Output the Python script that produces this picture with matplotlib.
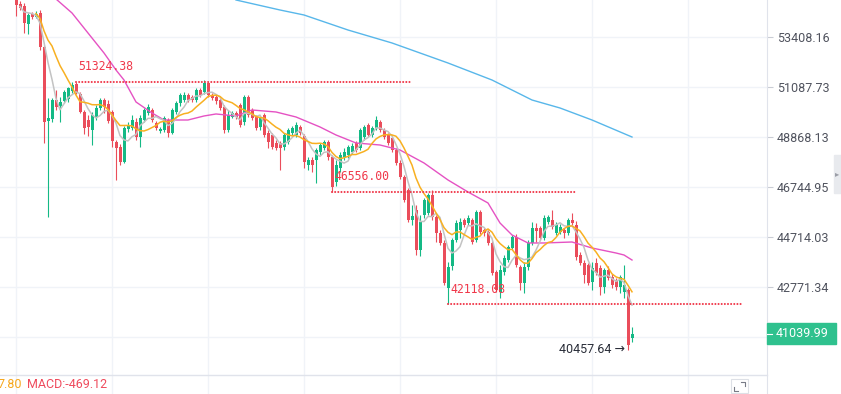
import numpy as np
import pandas as pd
import matplotlib
matplotlib.use("Agg")
import matplotlib.pyplot as plt
from matplotlib.patches import Rectangle
from matplotlib.lines import Line2D
from matplotlib.ticker import NullLocator, NullFormatter

plt.rcParams["font.family"] = ["Roboto", "DejaVu Sans"]

# candles, one per index (oldest first)
OPEN = [55388, 54998, 54900, 54029, 54511, 54366, 54560, 52936, 49568, 49657,
        50501, 50233, 50456, 50546, 50907, 51224, 50772, 49966, 49612, 49173,
        49745, 50144, 50501, 50323, 49966, 48652, 48436, 47795, 49217, 49261,
        49524, 48868, 49612, 49922, 50055, 49480, 49130, 49173, 49612, 49043,
        49966, 50367, 50501, 50727, 50637, 50501, 50952, 50862, 51270, 50727,
        50637, 50501, 50189, 49173, 49745, 49922, 50278, 49524, 50637, 50055,
        49745, 49305, 49834, 49043, 48956, 48609, 48609, 48436, 48652, 49043,
        48956, 49305, 48912, 47668, 47880, 47880, 48222, 48393, 48652, 48008,
        46954, 47541, 48008, 48094, 48222, 48609, 48393, 48868, 49393, 48956,
        49261, 49524, 49173, 48956, 48825, 48307, 47753, 47163, 46620, 45394,
        45800, 44200, 45597, 45678, 46414, 45516, 44874, 44477, 42733, 43577,
        44595, 44993, 45394, 45274, 45394, 44595, 45719, 44993, 44913, 44477,
        43345, 42582, 43345, 43809, 44279, 44714, 43538, 42924, 43538, 44477,
        45073, 45073, 44675, 45314, 45394, 44874, 44913, 44993, 44874, 45394,
        45194, 44005, 43693, 43616, 42962, 43693, 43499, 42771, 43422, 43153,
        43038, 42771, 42582, 42657, 40877]
HIGH = [55583, 55144, 55047, 54560, 54608, 54657, 54705, 53030, 50591, 50591,
        50952, 50636, 50952, 51088, 51315, 51324.38, 50862, 50055, 49834, 49966,
        50278, 50591, 50591, 50501, 50055, 48738, 48566, 49349, 49524, 49834,
        49701, 49834, 50144, 50323, 50144, 49568, 49305, 49789, 49701, 50144,
        50456, 50817, 50862, 50817, 50727, 51043, 51043, 51406, 51315, 50817,
        50727, 50591, 50278, 50055, 50011, 50011, 50367, 50727, 50727, 50144,
        49834, 49789, 49922, 49173, 49043, 48738, 48695, 49043, 49261, 49349,
        49524, 49393, 48999, 48008, 48008, 48393, 48609, 48738, 48738, 48094,
        47880, 48222, 48393, 48522, 48609, 48695, 49261, 49393, 49480, 49349,
        49789, 49612, 49261, 49043, 48912, 48393, 47880, 47246, 46703, 46004,
        46004, 45597, 46290, 46496, 46620, 45597, 44993, 44595, 43732, 44675,
        45394, 45475, 45475, 45597, 45475, 45800, 45800, 45073, 44993, 44556,
        43422, 43616, 44005, 44398, 44794, 44834, 43616, 43732, 44595, 45314,
        45274, 45154, 45597, 45597, 45800, 45314, 45234, 45073, 45475, 45678,
        45354, 44122, 43809, 43693, 43732, 43887, 43616, 43499, 43577, 43268,
        43115, 43230, 43616, 42733, 41278]
LOW = [54415, 54705, 53599, 53551, 54269, 54318, 52795, 48609, 45516, 49524,
       50055, 49524, 50367, 50412, 50817, 50772, 49922, 48999, 48912, 48522,
       49612, 50055, 49922, 49480, 48436, 47037, 47668, 47753, 49086, 49173,
       48738, 48436, 49524, 49834, 49524, 49173, 49043, 49086, 48868, 48999,
       49878, 50233, 50412, 50412, 50412, 50412, 50637, 50772, 50637, 50501,
       50323, 50055, 49043, 49086, 49701, 49657, 49305, 49393, 49745, 49612,
       49173, 49173, 48868, 48393, 48350, 48307, 47456, 48307, 48566, 48956,
       48868, 48956, 47541, 47456, 47372, 46912, 48094, 48307, 47880, 46556.00,
       46787, 47372, 47880, 47965, 48136, 48222, 48307, 48738, 48868, 48868,
       49173, 49086, 48782, 48522, 48222, 47668, 47079, 46126, 45314, 45194,
       44005, 43966, 45475, 45597, 45394, 44516, 44398, 42848, 42118.08, 43422,
       44516, 44675, 45113, 45194, 44437, 44516, 44834, 44754, 44398, 43230,
       42582, 42355, 43230, 43732, 44200, 43538, 42657, 42544, 43422, 44398,
       44516, 44595, 44595, 45234, 45033, 44794, 44834, 44675, 44794, 45194,
       43809, 43616, 42924, 42848, 42657, 43230, 42469, 42544, 43038, 42733,
       42657, 42544, 42355, 40457.64, 40732]
CLOSE = [54949, 54803, 54077, 54463, 54366, 54511, 52936, 49524, 49701, 50501,
         50189, 50412, 50862, 51043, 51179, 50862, 49966, 49261, 49305, 49834,
         50144, 50501, 50189, 49568, 48695, 48393, 47795, 49261, 49349, 49612,
         48868, 49701, 50055, 50189, 49612, 49261, 49217, 49701, 49043, 50055,
         50367, 50727, 50727, 50501, 50501, 50952, 50727, 51270, 50727, 50591,
         50456, 50144, 49173, 49834, 49922, 49745, 49393, 50637, 49834, 49701,
         49261, 49701, 48956, 48652, 48436, 48393, 48393, 48956, 49173, 49261,
         49393, 49043, 47795, 47880, 47668, 48307, 48522, 48652, 48008, 46745,
         47668, 48094, 48222, 48436, 48479, 48307, 49173, 49305, 48956, 49261,
         49612, 49173, 48868, 48609, 48307, 47753, 47163, 46208, 45394, 45556,
         44200, 45314, 46208, 46414, 45516, 44874, 44477, 42924, 43538, 44595,
         45274, 45314, 45194, 45475, 44516, 45719, 44913, 44874, 44477, 43307,
         42657, 43422, 43887, 44319, 44714, 43616, 42924, 43538, 44477, 45073,
         44953, 44675, 45475, 45516, 45113, 45194, 45113, 44874, 45394, 45274,
         43926, 43693, 43230, 42924, 43499, 43307, 42771, 43422, 43115, 42848,
         42771, 43153, 42848, 40624, 41039.99]

# slower averages (candle index, price)
PINK_IDX = [10, 14, 18, 22, 25, 27, 30, 34, 37, 43, 47, 50, 55, 59, 65, 70, 76,
            80, 85, 91, 96, 102, 108, 113, 118, 121, 124, 128, 132, 139, 144,
            150, 152, 154]
PINK_VAL = [55242, 54560, 53598, 52655, 51865, 51406, 50412, 49922, 49612,
            49612, 49789, 49878, 49789, 50055, 49966, 49745, 49305, 48956,
            48609, 48522, 48307, 47753, 47037, 46538, 46086, 45274, 44794,
            44477, 44477, 44516, 44279, 44083, 44005, 43809]
BLUE_IDX = [55, 66, 72, 83, 94, 108, 119, 129, 136, 144, 154]
BLUE_VAL = [55193, 54705, 54463, 53741, 53125, 52189, 51406, 50501, 50144,
            49612, 48868]

# marked levels: price, first candle, end of the dotted line
LEVEL_PRICE = [51324.38, 46556.00, 42118.08]
LEVEL_START = [15, 79, 108]
LEVEL_END = [98.5, 139.75, 181.7]

PRICE_TICKS = [53408.16, 51087.73, 48868.13, 46744.95, 44714.03, 42771.34, 40913.02]
MACD_DEA = "7.80"
MACD_VAL = "MACD:-469.12"

GREEN = "#14b985"
RED = "#ea4d5b"
GRID = "#f0f3f8"

W, H, DPI = 841, 394, 100
PLOT_R = 767  # right price axis position (px)


def fx(px):
    return px / W


def fy(py):
    return 1 - py / H


fig = plt.figure(figsize=(W / DPI, H / DPI), dpi=DPI)
ax = fig.add_axes([0, 0, PLOT_R / W, 1])
ax.set_yscale("log")
ax.set_xlim(-4, (PLOT_R - 16) / 4)
step = PRICE_TICKS[0] / PRICE_TICKS[1]
ax.set_ylim(PRICE_TICKS[0] / step ** (357 / 50), PRICE_TICKS[0] * step ** (37 / 50))

o, h, l, c = (np.array(a, dtype=float) for a in (OPEN, HIGH, LOW, CLOSE))
idx = np.arange(len(c))
cols = np.where(c >= o, GREEN, RED)

# candles
ax.vlines(idx, l, h, colors=cols, lw=0.8, zorder=2)
lo = np.minimum(o, c)
hi = np.maximum(np.maximum(o, c), lo * 1.0008)
ax.bar(idx, hi - lo, bottom=lo, width=0.75, color=cols, lw=0, zorder=3)

# moving averages
close = pd.Series(c)
ma5 = close.rolling(5, min_periods=1).mean()
ma10 = close.rolling(10, min_periods=1).mean()
ax.plot(BLUE_IDX, BLUE_VAL, color="#58b7ea", lw=1.0, zorder=4)
ax.plot(PINK_IDX, PINK_VAL, color="#e552c3", lw=1.0, zorder=4)
ax.plot(idx[1:], ma5[1:], color="#c3c3c3", lw=1.1, zorder=4)
ax.plot(idx[5:], ma10[5:], color="#f8b021", lw=1.1, zorder=4)

# dotted levels + labels
for price, start, end in zip(LEVEL_PRICE, LEVEL_START, LEVEL_END):
    ax.plot([start, end], [price, price], color="#f0384a", lw=1.5,
            linestyle=(0, (0.01, 1.5)), dash_capstyle="round", zorder=5)
    ax.annotate(f"{price:.2f}", xy=(start, price), xytext=(1.6, 11),
                textcoords="offset points", va="center", ha="left",
                fontsize=8.3, family="DejaVu Sans Mono", color="#f0384a", zorder=6)

# low marker of the last drop
ilow = int(np.argmin(l))
ax.annotate(f"{l[ilow]:.2f} \u2192", xy=(ilow, l[ilow]), xytext=(-2.5, 0),
            textcoords="offset points", ha="right", va="center",
            fontsize=9, color="#2a2e39", zorder=6)

# axes styling; the lowest tick label sits under the last-price tag
ax.yaxis.tick_right()
tick_labels = [f"{v:.2f}" for v in PRICE_TICKS[:-1]] + [""]
ax.set_yticks(PRICE_TICKS, labels=tick_labels)
ax.yaxis.set_minor_locator(NullLocator())
ax.yaxis.set_minor_formatter(NullFormatter())
ax.tick_params(axis="y", length=4, width=0.8, color="#c9ccd4", labelsize=9,
               labelcolor="#50535e", pad=3)
ax.set_xticks(np.arange(0, 190, 24))
ax.tick_params(axis="x", length=0, labelbottom=False)
ax.grid(True, color=GRID, lw=1, zorder=0)
for s in ("top", "left", "bottom"):
    ax.spines[s].set_visible(False)
ax.spines["right"].set_color("#e0e3eb")

# separator above the indicator strip
fig.add_artist(Line2D([0, fx(PLOT_R)], [fy(375)] * 2, color="#e0e3eb", lw=1))
fig.text(fx(-3), fy(384), MACD_DEA, color="#f6a71c", fontsize=9, va="center")
fig.text(fx(26.5), fy(384), MACD_VAL, color="#ef4b5d", fontsize=9, va="center")

# last price tag
ypix = ax.transData.transform((0, c[-1]))[1]
fig.patches.append(Rectangle((fx(PLOT_R), (ypix - 10.5) / H), fx(69), 21 / H,
                             transform=fig.transFigure, color="#2fc18e", zorder=5))
fig.add_artist(Line2D([fx(PLOT_R), fx(PLOT_R + 5)], [ypix / H] * 2,
                      color="white", lw=0.8, zorder=6))
fig.text(fx(776), ypix / H, f"{c[-1]:.2f}", color="white", fontsize=9,
         va="center", zorder=7)

# side scroll handle
fig.patches.append(Rectangle((fx(834), fy(193)), fx(7), 38 / H,
                             transform=fig.transFigure, color="#e8eaee", zorder=5))
fig.text(fx(837.5), fy(174), "\u25b8", color="#9a9da6", fontsize=6,
         ha="center", va="center", zorder=6)

# expand icon, bottom right
fig.patches.append(Rectangle((fx(731), fy(393)), fx(17), 14 / H, fill=False,
                             ec="#dde0e6", lw=0.8, transform=fig.transFigure))
fig.add_artist(Line2D([fx(741), fx(745), fx(745)], [fy(382), fy(382), fy(386)],
                      color="#787b86", lw=0.8))
fig.add_artist(Line2D([fx(734), fx(734), fx(738)], [fy(387), fy(391), fy(391)],
                      color="#787b86", lw=0.8))

fig.savefig("out.png", dpi=DPI)
